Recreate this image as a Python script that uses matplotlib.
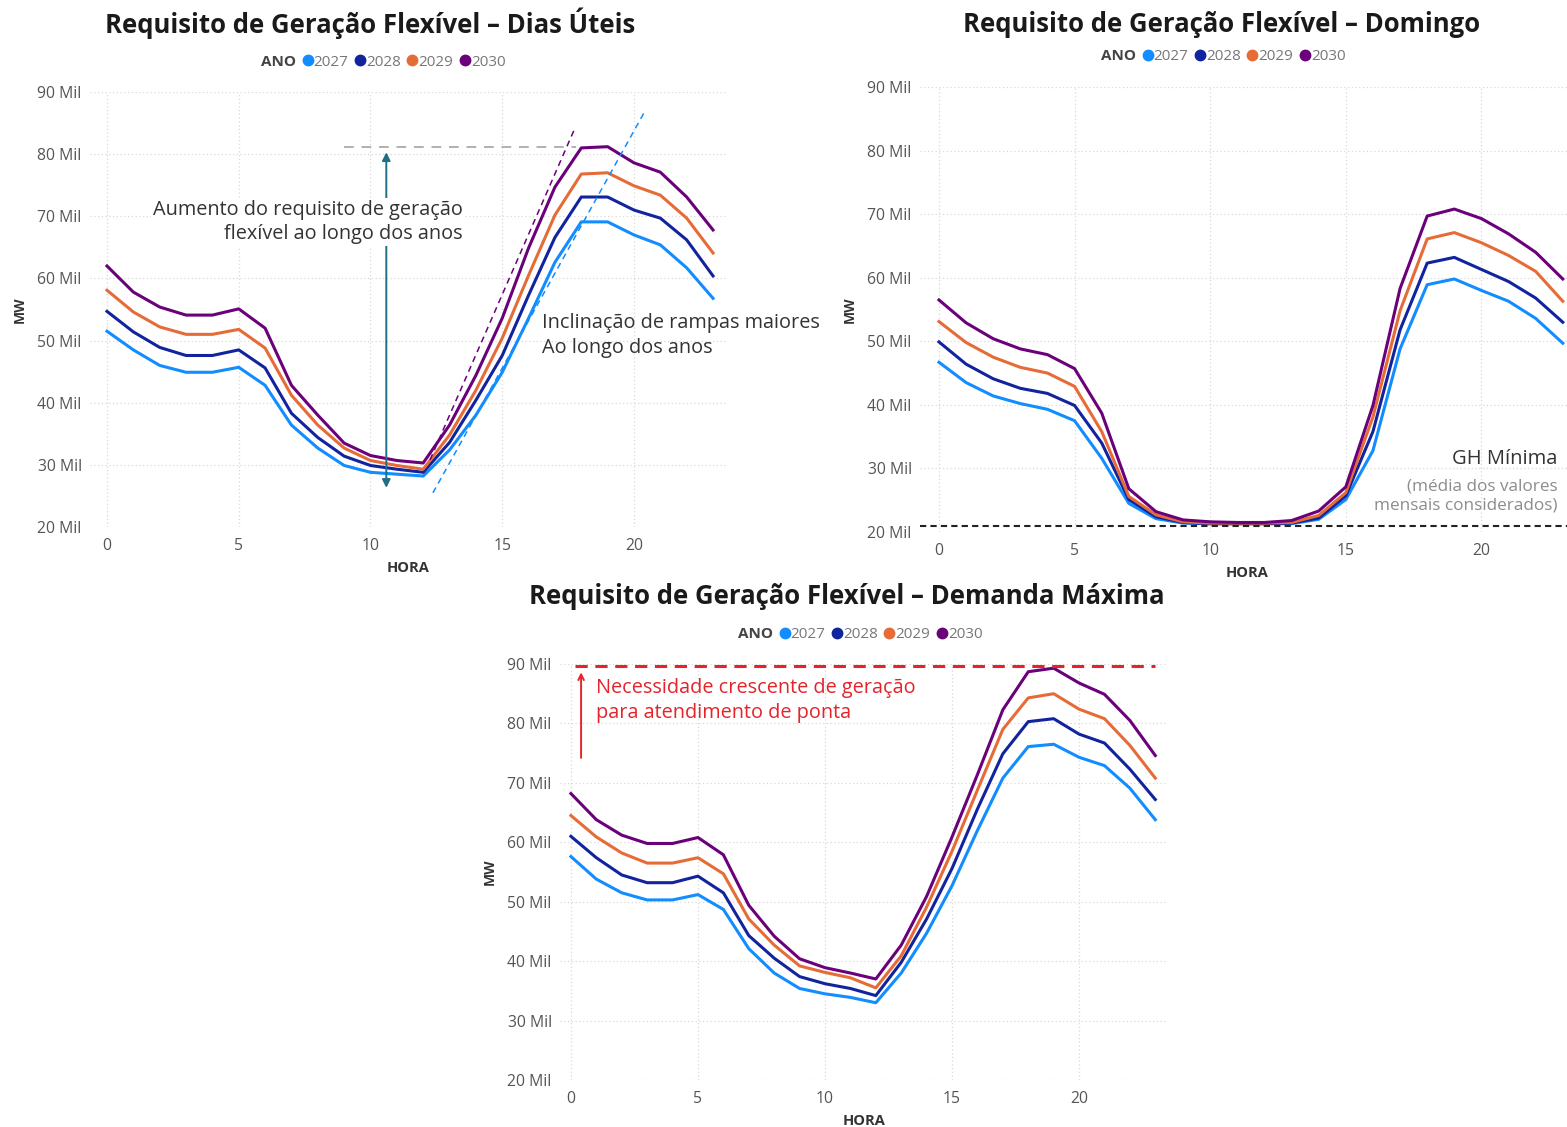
import numpy as np
import matplotlib
matplotlib.use("Agg")
import matplotlib.pyplot as plt
from matplotlib.lines import Line2D

plt.rcParams['font.family'] = ['Open Sans', 'DejaVu Sans']

horas = np.arange(24)
anos = ['2027', '2028', '2029', '2030']
cores = ['#118DFF', '#12239E', '#E66C37', '#6B007B']

# Dias úteis (Mil MW)
uteis_2027 = [51.5, 48.5, 46.0, 44.9, 44.9, 45.7, 42.8, 36.4, 32.7, 29.9, 28.8, 28.5,
              28.2, 32.4, 38.0, 44.9, 53.6, 62.6, 69.1, 69.1, 67.0, 65.4, 61.7, 56.8]
uteis_2028 = [54.7, 51.4, 48.9, 47.6, 47.6, 48.5, 45.6, 38.3, 34.4, 31.4, 29.9, 29.3,
              28.8, 33.6, 40.4, 47.6, 57.3, 66.6, 73.1, 73.1, 71.0, 69.7, 66.2, 60.4]
uteis_2029 = [58.1, 54.6, 52.2, 51.0, 51.0, 51.8, 48.8, 41.2, 36.4, 32.7, 30.7, 29.9,
              29.3, 34.8, 42.0, 50.4, 60.5, 70.2, 76.8, 77.0, 74.9, 73.4, 69.7, 64.1]
uteis_2030 = [62.0, 57.8, 55.4, 54.1, 54.1, 55.1, 52.0, 42.8, 38.0, 33.5, 31.5, 30.7,
              30.3, 36.4, 44.4, 53.6, 64.9, 74.7, 81.0, 81.2, 78.6, 77.1, 73.1, 67.8]

# Domingo
dom_2027 = [46.7, 43.5, 41.4, 40.2, 39.3, 37.5, 31.6, 24.5, 22.1, 21.4, 21.3, 21.3,
            21.3, 21.3, 22.0, 25.1, 32.8, 48.8, 58.9, 59.8, 58.0, 56.3, 53.6, 49.7]
dom_2028 = [49.9, 46.4, 44.1, 42.6, 41.8, 39.9, 34.0, 25.1, 22.4, 21.5, 21.3, 21.3,
            21.3, 21.4, 22.2, 25.7, 35.8, 51.8, 62.3, 63.2, 61.3, 59.4, 56.8, 53.0]
dom_2029 = [53.1, 49.8, 47.5, 45.9, 45.0, 42.9, 35.8, 25.6, 22.7, 21.6, 21.4, 21.4,
            21.4, 21.5, 22.6, 26.2, 38.1, 54.8, 66.1, 67.1, 65.5, 63.5, 61.0, 56.3]
dom_2030 = [56.5, 52.9, 50.4, 48.8, 47.9, 45.7, 38.7, 26.8, 23.2, 21.9, 21.6, 21.5,
            21.5, 21.8, 23.3, 27.1, 39.9, 58.3, 69.7, 70.8, 69.3, 66.9, 64.0, 59.8]

# Demanda máxima
dmax_2027 = [57.6, 53.8, 51.5, 50.3, 50.3, 51.2, 48.7, 42.1, 38.0, 35.4, 34.5, 33.9,
             33.0, 38.0, 44.7, 52.7, 62.0, 70.8, 76.1, 76.5, 74.3, 72.9, 69.1, 63.8]
dmax_2028 = [61.0, 57.4, 54.5, 53.2, 53.2, 54.3, 51.5, 44.3, 40.5, 37.4, 36.2, 35.4,
             34.2, 39.8, 47.1, 55.6, 65.6, 74.9, 80.3, 80.8, 78.2, 76.7, 72.3, 67.2]
dmax_2029 = [64.5, 60.9, 58.2, 56.5, 56.5, 57.4, 54.7, 47.1, 42.7, 39.2, 38.1, 37.2,
             35.5, 40.9, 49.1, 58.5, 68.8, 79.0, 84.3, 85.0, 82.4, 80.8, 76.3, 70.8]
dmax_2030 = [68.2, 63.8, 61.2, 59.8, 59.8, 60.8, 57.9, 49.4, 44.2, 40.4, 38.9, 38.0,
             37.0, 42.7, 50.9, 60.9, 71.4, 82.3, 88.7, 89.3, 86.8, 84.9, 80.5, 74.6]

gh_minima = 21.0
ponta_max = 89.6
pico_uteis = 81.2

W, H = 1567, 1127
fig = plt.figure(figsize=(W / 100, H / 100), dpi=100)


def box(l, t, r, b):
    return [l / W, 1 - b / H, (r - l) / W, (b - t) / H]


def painel(pos, xlim, series, titulo, tpos, lpos):
    ax = fig.add_axes(box(*pos))
    for ys, c, a in zip(series, cores, anos):
        ax.plot(horas, ys, color=c, lw=2.2, label=a, solid_joinstyle='round')
    ax.set_xlim(*xlim)
    ax.set_ylim(20, 90)
    ax.set_yticks(range(20, 91, 10))
    ax.set_yticklabels([f'{v} Mil' for v in range(20, 91, 10)])
    ax.set_xticks([0, 5, 10, 15, 20])
    ax.grid(True, color='#d9d9d9', ls=(0, (1, 2)), lw=0.9)
    for s in ax.spines.values():
        s.set_visible(False)
    ax.tick_params(length=0, labelsize=11.3, labelcolor='#555555')
    ax.tick_params(axis='y', pad=6)
    ax.tick_params(axis='x', pad=8)
    ax.set_xlabel('HORA', fontsize=10.5, fontweight='bold', color='#333333', labelpad=5)
    ax.set_ylabel('MW', fontsize=10, fontweight='bold', color='#333333', labelpad=8)
    fig.text(tpos[0] / W, 1 - tpos[1] / H, titulo, ha='center', va='center',
             fontsize=18.5, fontweight='bold', color='#1a1a1a')
    handles = [Line2D([], [], ls='none')] + [
        Line2D([], [], ls='none', marker='o', ms=7.5, color=c) for c in cores]
    leg = fig.legend(handles, ['ANO'] + anos, loc='center', ncol=5,
                     bbox_to_anchor=(lpos[0] / W, 1 - lpos[1] / H),
                     frameon=False, fontsize=11, handlelength=0.6,
                     handletextpad=0.1, columnspacing=0.45, borderpad=0)
    for i, t in enumerate(leg.get_texts()):
        t.set_color('#777777')
        if i == 0:
            t.set_fontweight('bold')
            t.set_color('#444444')
    return ax


# Dias úteis
ax1 = painel((90, 92, 727, 527), (-0.645, 23.53),
             [uteis_2027, uteis_2028, uteis_2029, uteis_2030],
             'Requisito de Geração Flexível – Dias Úteis', (370, 23), (378, 62))
ax1.plot([9.0, 17.8], [pico_uteis, pico_uteis], color='#b0b0b0', ls=(0, (5, 4)), lw=1.4)
ax1.plot([12.26, 17.76], [30.8, 84.2], color='#6B007B', ls=(0, (4, 3)), lw=1.1)
ax1.plot([12.37, 20.4], [25.5, 86.8], color='#118DFF', ls=(0, (4, 3)), lw=1.1)
ax1.annotate('', xy=(10.6, 80.3), xytext=(10.6, 26.3),
             arrowprops=dict(arrowstyle='<|-|>', color='#1f6f86', lw=1.4,
                             mutation_scale=12, shrinkA=0, shrinkB=0))
ax1.text(13.5, 69.1, 'Aumento do requisito de geração\nflexível ao longo dos anos',
         ha='right', va='center', fontsize=14.3, color='#333333', linespacing=1.3,
         bbox=dict(facecolor='white', edgecolor='none', pad=1))
ax1.text(16.5, 50.8, 'Inclinação de rampas maiores\nAo longo dos anos',
         ha='left', va='center', fontsize=14.3, color='#333333', linespacing=1.3,
         clip_on=False)

# Domingo
ax2 = painel((920, 87, 1575, 532), (-0.7, 23.45),
             [dom_2027, dom_2028, dom_2029, dom_2030],
             'Requisito de Geração Flexível – Domingo', (1222, 24), (1218, 57))
ax2.axhline(gh_minima, color='#222222', ls=(0, (3, 2)), lw=1.5)
ax2.text(22.8, 31.5, 'GH Mínima', ha='right', va='center', fontsize=14.5, color='#333333')
ax2.text(22.8, 25.6, '(média dos valores\nmensais considerados)', ha='right', va='center',
         fontsize=12.3, color='#8c8c8c', linespacing=1.25)

# Demanda máxima
ax3 = painel((560, 664, 1168, 1080), (-0.43, 23.5),
             [dmax_2027, dmax_2028, dmax_2029, dmax_2030],
             'Requisito de Geração Flexível – Demanda Máxima', (847, 597), (855, 635))
ax3.plot([0.15, 23.0], [ponta_max, ponta_max], color='#e3242b', ls=(0, (4, 2.5)), lw=2.2)
ax3.annotate('', xy=(0.4, 88.6), xytext=(0.4, 74.2),
             arrowprops=dict(arrowstyle='->', color='#e3242b', lw=1.4,
                             shrinkA=0, shrinkB=0))
ax3.text(1.0, 83.9, 'Necessidade crescente de geração\npara atendimento de ponta',
         ha='left', va='center', fontsize=14.3, color='#e3242b', linespacing=1.3)

fig.savefig('out.png', dpi=100, facecolor='white')
